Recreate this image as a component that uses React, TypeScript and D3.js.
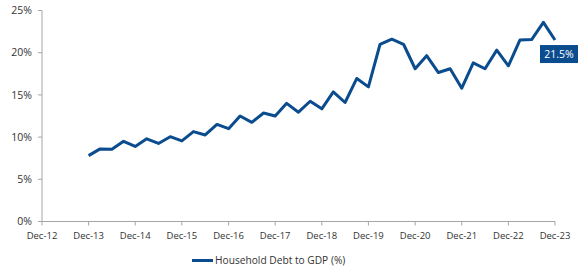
import React from "react";
import * as d3 from "d3";

const quarters: string[] = [
  "Dec-13", "Mar-14", "Jun-14", "Sep-14", "Dec-14", "Mar-15", "Jun-15", "Sep-15",
  "Dec-15", "Mar-16", "Jun-16", "Sep-16", "Dec-16", "Mar-17", "Jun-17", "Sep-17",
  "Dec-17", "Mar-18", "Jun-18", "Sep-18", "Dec-18", "Mar-19", "Jun-19", "Sep-19",
  "Dec-19", "Mar-20", "Jun-20", "Sep-20", "Dec-20", "Mar-21", "Jun-21", "Sep-21",
  "Dec-21", "Mar-22", "Jun-22", "Sep-22", "Dec-22", "Mar-23", "Jun-23", "Sep-23",
  "Dec-23",
];

const debtToGdp: number[] = [
  7.8, 8.6, 8.55, 9.5, 8.9, 9.8, 9.25, 10.05,
  9.55, 10.65, 10.25, 11.5, 11.0, 12.5, 11.75, 12.85,
  12.5, 14.0, 12.95, 14.25, 13.35, 15.35, 14.1, 16.95,
  15.95, 21.0, 21.6, 21.0, 18.1, 19.65, 17.65, 18.1,
  15.8, 18.8, 18.1, 20.3, 18.45, 21.5, 21.55, 23.6,
  21.5,
];

const xTickLabels: string[] = [
  "Dec-12", "Dec-13", "Dec-14", "Dec-15", "Dec-16", "Dec-17",
  "Dec-18", "Dec-19", "Dec-20", "Dec-21", "Dec-22", "Dec-23",
];

const yTicks: number[] = [0, 5, 10, 15, 20, 25];

const seriesName = "Household Debt to GDP (%)";
const lastLabel = "21.5%";

const parse = d3.timeParse("%b-%y");
const FONT = "'Open Sans', 'Liberation Sans', sans-serif";
const BLUE = "#0b4c8f";
const AXIS = "#a6a6a6";
const TEXT = "#333333";

export default function App() {
  const width = 580;
  const height = 269;
  const left = 42;
  const right = 555;
  const top = 10.5;
  const bottom = 221.5;

  const x = d3
    .scaleTime()
    .domain([parse(xTickLabels[0]) as Date, parse(xTickLabels[xTickLabels.length - 1]) as Date])
    .range([left, right]);
  const y = d3.scaleLinear().domain([0, 25]).range([bottom, top]);

  const pts = quarters.map((q, i) => ({ d: parse(q) as Date, v: debtToGdp[i] }));
  const line = d3
    .line<{ d: Date; v: number }>()
    .x((p) => x(p.d))
    .y((p) => y(p.v));

  const last = pts[pts.length - 1];
  const lx = x(last.d);
  const ly = y(last.v);

  return (
    <svg
      width={width}
      height={height}
      style={{ position: "absolute", left: 0, top: 0, background: "#fff" }}
      fontFamily={FONT}
    >
      {/* y axis */}
      <line x1={left} x2={left} y1={top} y2={bottom} stroke={AXIS} strokeWidth={1} />
      {yTicks.map((t) => (
        <g key={t}>
          <line x1={left - 4} x2={left} y1={y(t)} y2={y(t)} stroke={AXIS} />
          <text x={32} y={y(t)} dy="0.35em" textAnchor="end" fontSize={10.5} fill={TEXT}>
            {t}%
          </text>
        </g>
      ))}
      {/* x axis */}
      <line x1={left} x2={right} y1={bottom} y2={bottom} stroke={AXIS} strokeWidth={1} />
      {xTickLabels.map((t) => {
        const xx = x(parse(t) as Date);
        return (
          <g key={t}>
            <line x1={xx} x2={xx} y1={bottom} y2={bottom + 4} stroke={AXIS} />
            <text x={xx} y={236} dy="0.35em" textAnchor="middle" fontSize={9.5} fill={TEXT}>
              {t}
            </text>
          </g>
        );
      })}
      {/* series */}
      <path d={line(pts) ?? ""} fill="none" stroke={BLUE} strokeWidth={3} strokeLinejoin="round" />
      {/* data label */}
      <rect x={lx - 15} y={ly + 5} width={38} height={18} fill={BLUE} />
      <text x={lx + 4} y={ly + 14} dy="0.35em" textAnchor="middle" fontSize={10.5} fill="#fff">
        {lastLabel}
      </text>
      {/* legend */}
      <line x1={192} x2={213} y1={260.5} y2={260.5} stroke={BLUE} strokeWidth={3} />
      <text x={215} y={260.5} dy="0.35em" fontSize={10.2} fill={TEXT}>
        {seriesName}
      </text>
    </svg>
  );
}
